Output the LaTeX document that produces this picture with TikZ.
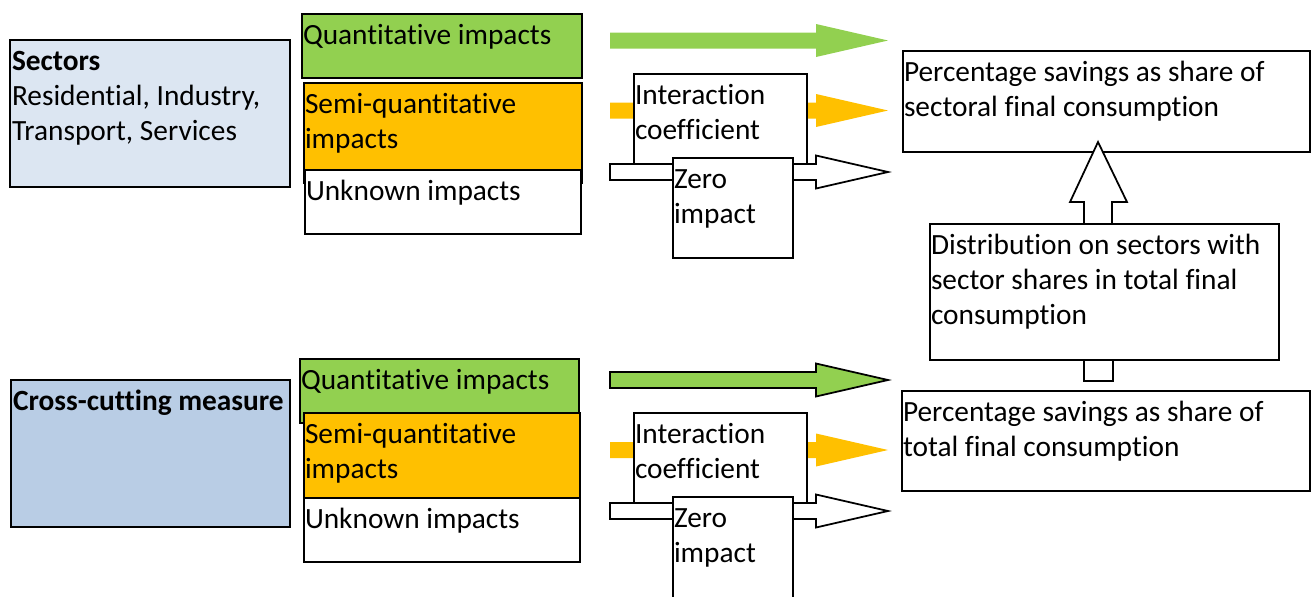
\documentclass[tikz,border=0pt]{standalone}
\usepackage{fontspec}
\setmainfont[Ligatures=NoCommon]{Carlito}
\usetikzlibrary{fit}
\definecolor{qgreen}{HTML}{92D050}
\definecolor{sorange}{HTML}{FFC000}
\definecolor{lightsect}{HTML}{DCE6F2}
\definecolor{crossblue}{HTML}{B9CDE5}
\newcommand{\blockarrow}[2][]{\path[#1] (610,#2-8) -- (816,#2-8) -- (816,#2-16.5) -- (888,#2) -- (816,#2+16.5) -- (816,#2+8) -- (610,#2+8) -- cycle;}
\tikzset{
  box/.style={draw, line width=1pt, inner sep=0pt},
  txt/.style={anchor=north west, inner sep=0pt, align=left, font=\fontsize{16.7}{19.85}\selectfont},
}
\begin{document}
\begin{tikzpicture}[x=0.02cm,y=-0.02cm,line width=1pt]
	\useasboundingbox (0,0) rectangle (1311,596);
	\node [box,fill=lightsect,fit={(10,40) (290,187)}] (sect) {};
	\node [txt] (secttxt) at ([shift={(2,6.5)}]sect.north west) {\strut\textbf{Sectors}\\Residential, Industry,\\Transport, Services};
	\node [box,fill=qgreen,fit={(302,14) (582,78)}] (quant) {};
	\node [txt] (quanttxt) at ([shift={(1,6.5)}]quant.north west) {\strut Quantitative impacts};
	\node [box,fill=sorange,fit={(304,83) (582,183)}] (semi) {};
	\node [txt] (semitxt) at ([shift={(1,6.5)}]semi.north west) {\strut Semi-quantitative\\impacts};
	\node [box,fill=white,fit={(305,170) (581,234)}] (unk) {};
	\node [txt] (unktxt) at ([shift={(1,6.5)}]unk.north west) {\strut Unknown impacts};
	\blockarrow[fill=qgreen]{40.5}
	\blockarrow[fill=sorange]{110.5}
	\node [box,fill=white,fit={(634,74) (807,170)}] (inter) {};
	\node [txt] (intertxt) at ([shift={(1,6.5)}]inter.north west) {\strut Interaction\\coefficient};
	\blockarrow[draw,fill=white]{172}
	\node [box,fill=white,fit={(673,158) (793,258)}] (zero) {};
	\node [txt] (zerotxt) at ([shift={(1,6.5)}]zero.north west) {\strut Zero\\impact};
	\node [box,fit={(903,51) (1310,152)}] (pctsect) {};
	\node [txt] (pctsecttxt) at ([shift={(1,6.5)}]pctsect.north west) {\strut Percentage savings as share of\\sectoral final consumption};
	\draw [fill=white] (1084,224) -- (1084,202) -- (1070,202) -- (1098,142) -- (1127,202) -- (1112,202) -- (1112,224);
	\draw [fill=white] (1084,381) rectangle (1113,358);
	\node [box,fill=white,fit={(930,224) (1279,360)}] (distr) {};
	\node [txt] (distrtxt) at ([shift={(1,6.5)}]distr.north west) {\strut Distribution on sectors with\\sector shares in total final\\consumption};
	\node [box,fill=crossblue,fit={(11,380) (290,527)}] (cross) {};
	\node [txt] (crosstxt) at ([shift={(2,6.5)}]cross.north west) {\strut\textbf{Cross-cutting measure}};
	\node [box,fill=qgreen,fit={(300,359) (579,423)}] (quantb) {};
	\node [txt] (quantbtxt) at ([shift={(1,6.5)}]quantb.north west) {\strut Quantitative impacts};
	\node [box,fill=sorange,fit={(304,413) (580,510)}] (semib) {};
	\node [txt] (semibtxt) at ([shift={(1,6.5)}]semib.north west) {\strut Semi-quantitative\\impacts};
	\node [box,fill=white,fit={(304,498) (580,562)}] (unkb) {};
	\node [txt] (unkbtxt) at ([shift={(1,6.5)}]unkb.north west) {\strut Unknown impacts};
	\blockarrow[draw,fill=qgreen]{380}
	\blockarrow[fill=sorange]{450}
	\node [box,fill=white,fit={(634,413) (807,510)}] (interb) {};
	\node [txt] (interbtxt) at ([shift={(1,6.5)}]interb.north west) {\strut Interaction\\coefficient};
	\blockarrow[draw,fill=white]{511}
	\node [box,fill=white,fit={(673,497) (793,605)}] (zerob) {};
	\node [txt] (zerobtxt) at ([shift={(1,6.5)}]zerob.north west) {\strut Zero\\impact};
	\node [box,fit={(902,391) (1310,491)}] (pcttot) {};
	\node [txt] (pcttottxt) at ([shift={(1,6.5)}]pcttot.north west) {\strut Percentage savings as share of\\total final consumption};
\end{tikzpicture}
\end{document}
